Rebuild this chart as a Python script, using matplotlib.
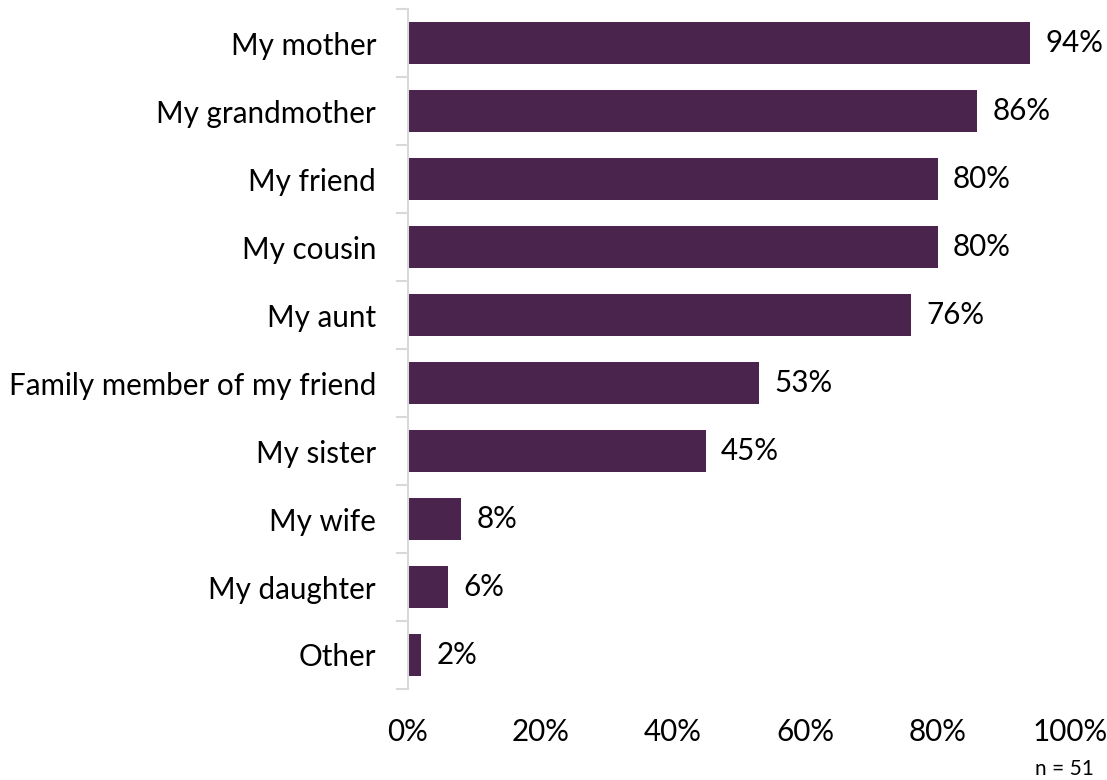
import matplotlib
matplotlib.use("Agg")
import matplotlib.pyplot as plt
from matplotlib.ticker import FixedLocator

categories = ["My mother", "My grandmother", "My friend", "My cousin", "My aunt",
              "Family member of my friend", "My sister", "My wife", "My daughter", "Other"]
values = [94, 86, 80, 80, 76, 53, 45, 8, 6, 2]
xticks = [0, 20, 40, 60, 80, 100]
xtick_labels = ["0%", "20%", "40%", "60%", "80%", "100%"]
note = "n = 51"

plt.rcParams['font.family'] = ['Lato', 'DejaVu Sans']
fig = plt.figure(figsize=(11.07, 7.8), dpi=100)
W, H = 1107, 780
ax = fig.add_axes([408 / W, 1 - 689 / H, (1070 - 408) / W, (689 - 9) / H])

FS = 21.3
bar_color = "#4B244D"
n = len(categories)
ypos = list(range(n))
ax.barh(ypos, values, height=0.62, color=bar_color, zorder=2)
ax.set_xlim(0, 100)
ax.set_ylim(n - 0.5, -0.5)

for y, v in zip(ypos, values):
    ax.text(v + 2.3, y, f"{v}%", va="center", ha="left", fontsize=FS, color="black")

ax.set_yticks(ypos)
ax.set_yticklabels(categories, fontsize=FS)
ax.yaxis.set_minor_locator(FixedLocator([i - 0.5 for i in range(n + 1)]))
ax.tick_params(axis="y", which="major", length=0, pad=23)
ax.tick_params(axis="y", which="minor", length=9, width=1.5, color="#d9d9d9")

ax.set_xticks(xticks)
ax.set_xticklabels(xtick_labels, fontsize=FS)
ax.tick_params(axis="x", length=0, pad=21)

for s in ["top", "right", "bottom"]:
    ax.spines[s].set_visible(False)
ax.spines["left"].set_color("#d9d9d9")
ax.spines["left"].set_linewidth(1.5)

fig.text(1064 / W, 1 - 769 / H, note, fontsize=15, ha="center", va="center")

fig.savefig("out.png", dpi=100)
